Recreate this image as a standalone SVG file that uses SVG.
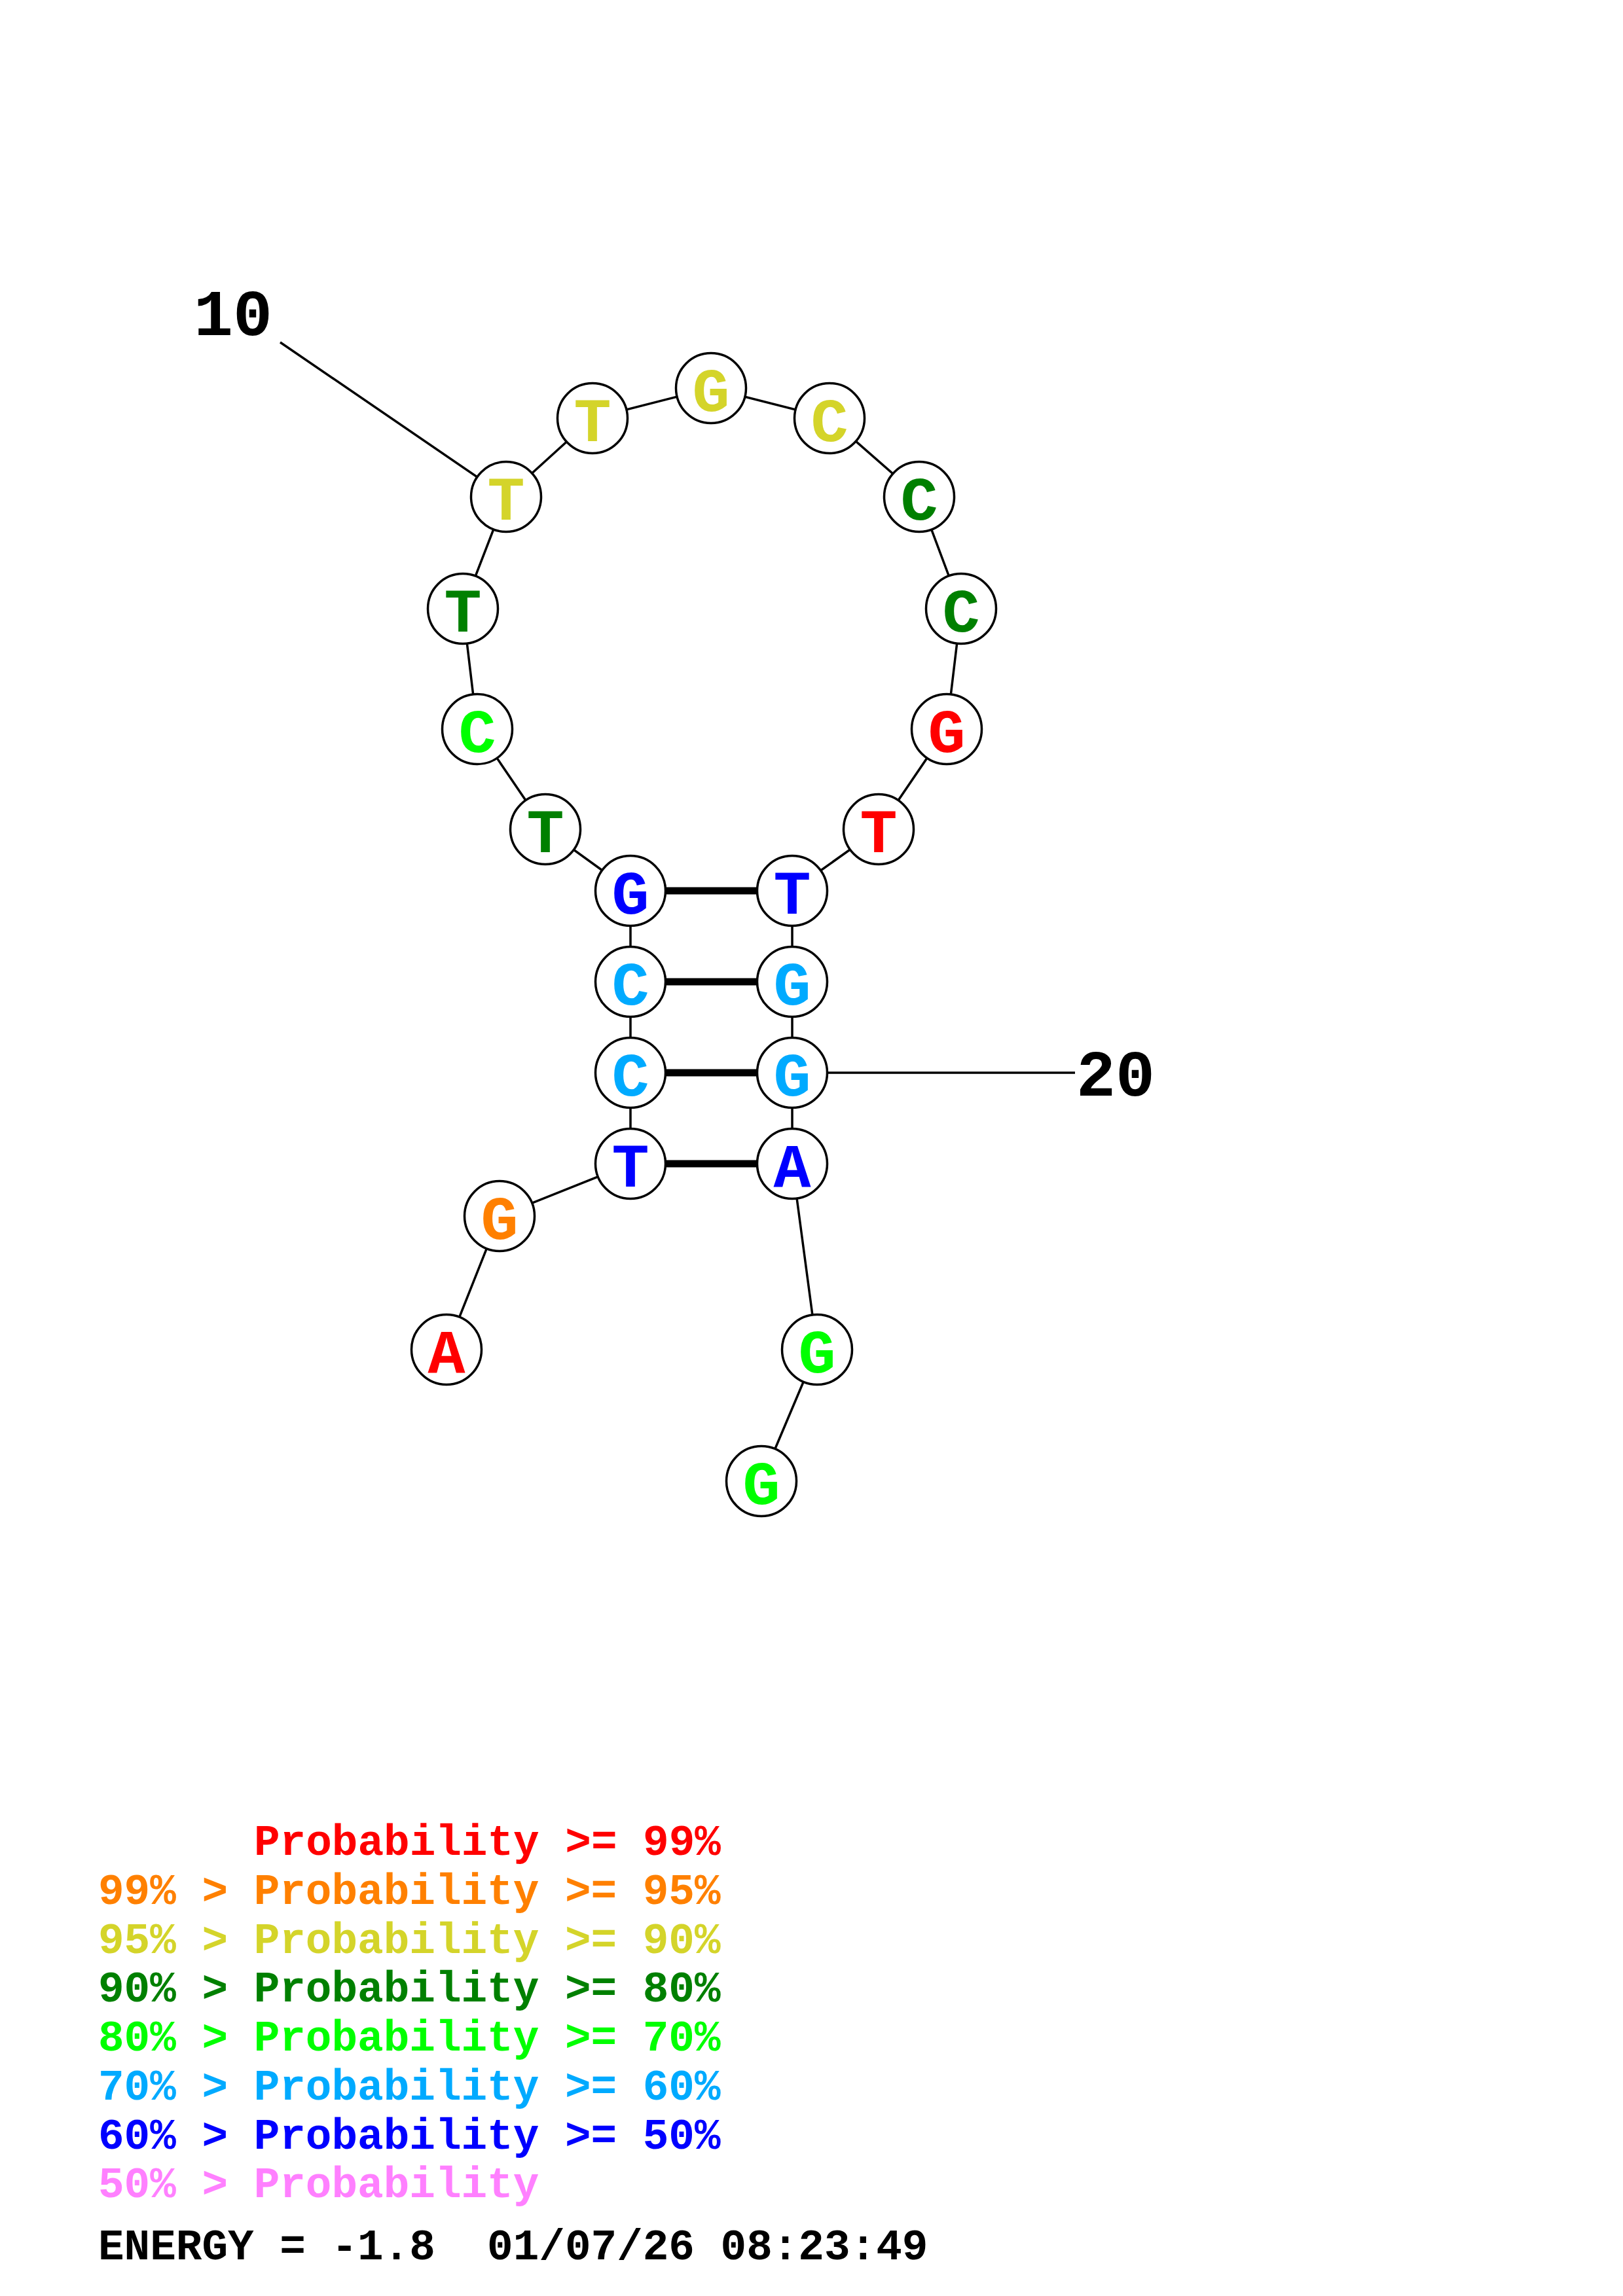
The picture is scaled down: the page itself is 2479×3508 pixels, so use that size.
<svg xmlns="http://www.w3.org/2000/svg" width="2479" height="3508" viewBox="0 0 2479 3508">
<style>
.bb{stroke:#000;stroke-width:3.5;fill:none}
.bp{stroke:#000;stroke-width:11;fill:none}
.nd circle{fill:#fff;stroke:#000;stroke-width:3.5}
.nd text{font-family:"Liberation Mono","DejaVu Sans Mono",monospace;font-weight:bold;font-size:95px;text-anchor:middle}
.lbl{font-family:"Liberation Mono","DejaVu Sans Mono",monospace;font-weight:bold;font-size:100px;fill:#000}
.lg{font-family:"Liberation Mono","DejaVu Sans Mono",monospace;font-weight:bold;font-size:66px;white-space:pre}
.r{fill:#FF0000}.o{fill:#FF8000}.y{fill:#D4D42A}.dg{fill:#008000}.g{fill:#00FF00}.lb{fill:#00AAFF}.b{fill:#0000FF}.p{fill:#FF80FF}.k{fill:#000}
</style>
<rect width="2479" height="3508" fill="#fff"/>
<g id="connectors" transform="translate(-4,0)">
<polyline class="bb" points="686,2062 767,1858 967,1778 967,1639 967,1500 967,1361 837,1267 733,1114 711,930 777,759 909,639 1090,593 1271,639 1408,759 1472,930 1450,1114 1346,1267 1214,1361 1214,1500 1214,1639 1214,1778 1252,2062 1167,2263"/>
<line class="bp" x1="967" y1="1778" x2="1214" y2="1778"/>
<line class="bp" x1="967" y1="1639" x2="1214" y2="1639"/>
<line class="bp" x1="967" y1="1500" x2="1214" y2="1500"/>
<line class="bp" x1="967" y1="1361" x2="1214" y2="1361"/>
<line class="bb" x1="432" y1="523" x2="777" y2="759"/>
<line class="bb" x1="1214" y1="1639" x2="1646" y2="1639"/>
</g>
<g id="nodes" transform="translate(-4,0)">
<g id="n1" class="nd"><circle cx="686" cy="2062" r="53.5"/><text x="686" y="2097" class="r">A</text></g>
<g id="n2" class="nd"><circle cx="767" cy="1858" r="53.5"/><text x="767" y="1893" class="o">G</text></g>
<g id="n3" class="nd"><circle cx="967" cy="1778" r="53.5"/><text x="967" y="1813" class="b">T</text></g>
<g id="n4" class="nd"><circle cx="967" cy="1639" r="53.5"/><text x="967" y="1674" class="lb">C</text></g>
<g id="n5" class="nd"><circle cx="967" cy="1500" r="53.5"/><text x="967" y="1535" class="lb">C</text></g>
<g id="n6" class="nd"><circle cx="967" cy="1361" r="53.5"/><text x="967" y="1396" class="b">G</text></g>
<g id="n7" class="nd"><circle cx="837" cy="1267" r="53.5"/><text x="837" y="1302" class="dg">T</text></g>
<g id="n8" class="nd"><circle cx="733" cy="1114" r="53.5"/><text x="733" y="1149" class="g">C</text></g>
<g id="n9" class="nd"><circle cx="711" cy="930" r="53.5"/><text x="711" y="965" class="dg">T</text></g>
<g id="n10" class="nd"><circle cx="777" cy="759" r="53.5"/><text x="777" y="794" class="y">T</text></g>
<g id="n11" class="nd"><circle cx="909" cy="639" r="53.5"/><text x="909" y="674" class="y">T</text></g>
<g id="n12" class="nd"><circle cx="1090" cy="593" r="53.5"/><text x="1090" y="628" class="y">G</text></g>
<g id="n13" class="nd"><circle cx="1271" cy="639" r="53.5"/><text x="1271" y="674" class="y">C</text></g>
<g id="n14" class="nd"><circle cx="1408" cy="759" r="53.5"/><text x="1408" y="794" class="dg">C</text></g>
<g id="n15" class="nd"><circle cx="1472" cy="930" r="53.5"/><text x="1472" y="965" class="dg">C</text></g>
<g id="n16" class="nd"><circle cx="1450" cy="1114" r="53.5"/><text x="1450" y="1149" class="r">G</text></g>
<g id="n17" class="nd"><circle cx="1346" cy="1267" r="53.5"/><text x="1346" y="1302" class="r">T</text></g>
<g id="n18" class="nd"><circle cx="1214" cy="1361" r="53.5"/><text x="1214" y="1396" class="b">T</text></g>
<g id="n19" class="nd"><circle cx="1214" cy="1500" r="53.5"/><text x="1214" y="1535" class="lb">G</text></g>
<g id="n20" class="nd"><circle cx="1214" cy="1639" r="53.5"/><text x="1214" y="1674" class="lb">G</text></g>
<g id="n21" class="nd"><circle cx="1214" cy="1778" r="53.5"/><text x="1214" y="1813" class="b">A</text></g>
<g id="n22" class="nd"><circle cx="1252" cy="2062" r="53.5"/><text x="1252" y="2097" class="g">G</text></g>
<g id="n23" class="nd"><circle cx="1167" cy="2263" r="53.5"/><text x="1167" y="2298" class="g">G</text></g>
</g>
<g id="labels">
<text class="lbl" x="296" y="512">10</text>
<text class="lbl" x="1644" y="1674">20</text>
</g>
<g id="legend">
<text class="lg r" x="388" y="2834">Probability &gt;= 99%</text>
<text class="lg o" x="150" y="2909">99% &gt; Probability &gt;= 95%</text>
<text class="lg y" x="150" y="2984">95% &gt; Probability &gt;= 90%</text>
<text class="lg dg" x="150" y="3058">90% &gt; Probability &gt;= 80%</text>
<text class="lg g" x="150" y="3133">80% &gt; Probability &gt;= 70%</text>
<text class="lg lb" x="150" y="3208">70% &gt; Probability &gt;= 60%</text>
<text class="lg b" x="150" y="3283">60% &gt; Probability &gt;= 50%</text>
<text class="lg p" x="150" y="3357">50% &gt; Probability</text>
<text class="lg k" x="150" y="3452">ENERGY = -1.8  01/07/26 08:23:49</text>
</g>
</svg>
